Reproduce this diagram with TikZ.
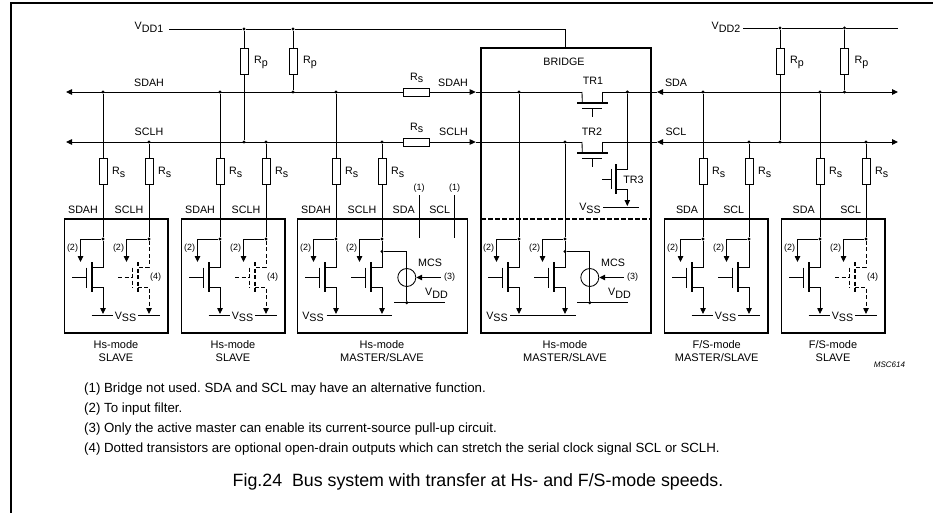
\documentclass[tikz,border=0pt]{standalone}
\usepackage{fontspec}
\setmainfont{Liberation Sans}
\usetikzlibrary{arrows.meta,calc}
\frenchspacing
\newcommand{\lowtxt}[1]{\lower2.6pt\hbox{#1}}
\tikzset{
    wire/.style={line width=.85pt},
    optwire/.style={line width=.85pt,dash pattern=on 4pt off 2.5pt},
    boxline/.style={line width=1.2pt},
    dotnode/.style={circle,fill=black,inner sep=0pt,minimum size=3.4pt},
    rvert/.style={draw,line width=.8pt,fill=white,inner sep=0pt,minimum width=8pt,minimum height=26pt},
    rhoriz/.style={draw,line width=.8pt,fill=white,inner sep=0pt,minimum width=26pt,minimum height=8pt},
    txt/.style={inner sep=0pt,font=\fontsize{10.7}{12}\selectfont},
    note/.style={inner sep=0pt,font=\fontsize{9}{10}\selectfont},
    modname/.style={inner sep=0pt,align=center,font=\fontsize{11}{12.2}\selectfont},
    para/.style={inner sep=0pt,anchor=west,font=\fontsize{13.28}{15}\selectfont}
}
% branch from a bus through a series resistor into a module
\newcommand{\rsdrop}[3]{
    \node[dotnode] (#1b) at (#2,#3) {};
    \node[rvert] (#1r) at (#2,171) {};
    \node[txt,anchor=west] (#1rl) at (#2+9,172.5) {R\lowtxt{s}};
    \node[dotnode] (#1j) at (#2,239) {};
    \draw[wire] (#1b) -- (#1r) -- (#1j);
}
% output transistor hanging below junction #1j
\newcommand{\outfet}[3]{
    \begin{scope}[shift={(#2,0)}]
        \coordinate (#1dr) at (0,267);
        \coordinate (#1dc) at (-11.3,267);
        \coordinate (#1sc) at (-11.3,287);
        \coordinate (#1sr) at (0,287);
        \coordinate (#1tip) at (0,314);
        \coordinate (#1ct) at (-11.3,262);
        \coordinate (#1cb) at (-11.3,292);
        \coordinate (#1bt) at (-17,267.5);
        \coordinate (#1bb) at (-17,287.5);
        \coordinate (#1gb) at (-17,277.5);
        \coordinate (#1gl) at (-31,277.5);
        \coordinate (#1fa) at (-22.5,239);
        \coordinate (#1fb) at (-22.5,262);
        \draw[wire,->] (#1j) -- (#1fa) -- (#1fb);
        \node[note] (#1fl) at (-30.5,248) {(2)};
        \draw[#3] (#1j) -- (#1dr) -- (#1dc);
        \draw[#3,->] (#1sc) -- (#1sr) -- (#1tip);
        \draw[#3,line width=1.7pt] (#1ct) -- (#1cb);
        \draw[#3] (#1bt) -- (#1bb);
        \draw[#3] (#1gl) -- (#1gb);
    \end{scope}
}
% current source of a master
\newcommand{\mcs}[2]{
    \begin{scope}[shift={(#2,0)}]
        \node[dotnode] (#1ma) at (0,251.5) {};
        \coordinate (#1mb) at (24.8,251.5);
        \node[dotnode] (#1mc) at (24.8,302.7) {};
        \node[draw,circle,wire,inner sep=0pt,minimum size=18pt] (#1mo) at (24.8,277.5) {};
        \draw[wire] (#1ma) -- (#1mb) -- (#1mc);
        \coordinate (#1ml) at (12,302.7);
        \coordinate (#1mr) at (63,302.7);
        \draw[wire] (#1ml) -- (#1mr);
        \coordinate (#1mi) at (58.5,277.5);
        \draw[wire,->] (#1mi) -- (#1mo);
        \node[note] (#1m3) at (67.5,277.5) {(3)};
        \node[txt] (#1mt) at (48,263) {MCS};
        \node[txt] (#1mv) at (54.5,293.5) {V\lowtxt{DD}};
    \end{scope}
}
% ground rail under two transistors with the text in between
\newcommand{\vssmid}[2]{
    \begin{scope}[shift={(#2,0)}]
        \coordinate (#1va) at (-11.5,315.5);
        \coordinate (#1vb) at (10,315.5);
        \coordinate (#1vc) at (35,315.5);
        \coordinate (#1vd) at (57,315.5);
        \draw[wire] (#1va) -- (#1vb);
        \draw[wire] (#1vc) -- (#1vd);
        \node[txt] (#1vt) at (22.5,317) {V\lowtxt{SS}};
    \end{scope}
}
\begin{document}
\begin{tikzpicture}[x=1pt,y=-1pt,>={Stealth[length=6pt,width=5.5pt,inset=0pt]}]
    \useasboundingbox (0,0) rectangle (933,513);
    \coordinate (FL) at (10.8,513);
    \coordinate (FC) at (10.8,2.7);
    \coordinate (FR) at (933,2.7);
    \draw[line width=2pt] (FL) -- (FC) -- (FR);
    % supplies and pull-ups
    \coordinate (VA) at (169,29);
    \node[dotnode] (VP1) at (244,29) {};
    \node[dotnode] (VP2) at (293,29) {};
    \coordinate (VB) at (565.7,29);
    \coordinate (VC) at (565.7,48);
    \draw[wire] (VA) -- (VP1) -- (VP2) -- (VB) -- (VC);
    \node[txt] (VDD1) at (149,27.5) {V\lowtxt{DD1}};
    \coordinate (WA) at (743,28);
    \coordinate (WB) at (898,28);
    \node[dotnode] (WP1) at (780,28) {};
    \node[dotnode] (WP2) at (844.5,28) {};
    \draw[wire] (WA) -- (WP1) -- (WP2) -- (WB);
    \node[txt] (VDD2) at (726,27.5) {V\lowtxt{DD2}};
    \foreach \nm/\xr/\tn/\yb in {A/244/VP1/142,B/293/VP2/92,C/780/WP1/142,D/844.5/WP2/92} {
        \node[rvert] (Rp\nm) at (\xr,61) {};
        \node[txt,anchor=west] (Rp\nm l) at (\xr+10,62.5) {R\lowtxt{p}};
        \node[dotnode] (Rp\nm b) at (\xr,\yb) {};
        \draw[wire] (\tn) -- (Rp\nm) -- (Rp\nm b);
    }
    % buses
    \foreach \nm/\yb in {H/92,L/142} {
        \coordinate (Bus\nm a) at (66,\yb);
        \node[rhoriz] (Rs\nm) at (416.7,\yb) {};
        \coordinate (Bus\nm b) at (475.7,\yb);
        \coordinate (Bus\nm c) at (582,\yb);
        \coordinate (Bus\nm d) at (602.3,\yb);
        \coordinate (Bus\nm e) at (657,\yb);
        \coordinate (Bus\nm f) at (898,\yb);
        \draw[wire,<-] (Bus\nm a) -- (Rs\nm);
        \draw[wire,->] (Rs\nm) -- (Bus\nm b);
        \draw[wire] (Bus\nm b) -- (Bus\nm c);
        \draw[wire] (Bus\nm d) -- (Bus\nm e);
        \draw[wire,<->] (Bus\nm e) -- (Bus\nm f);
    }
    \node[txt] (SDAHa) at (149,83) {SDAH};
    \node[txt] (SCLHa) at (149,132) {SCLH};
    \node[txt] (SDAHb) at (453,83) {SDAH};
    \node[txt] (SCLHb) at (453.5,132) {SCLH};
    \node[txt] (RsHl) at (416.7,78) {R\lowtxt{s}};
    \node[txt] (RsLl) at (416.7,128) {R\lowtxt{s}};
    \node[txt] (SDAa) at (676,83) {SDA};
    \node[txt] (SCLa) at (676,132) {SCL};
    % bridge
    \coordinate (BrA) at (481,48);
    \coordinate (BrB) at (651,333);
    \draw[boxline] (BrA) rectangle (BrB);
    \coordinate (BrL) at (481,219);
    \coordinate (BrR) at (651,219);
    \draw[boxline,dash pattern=on 4.5pt off 2.5pt] (BrL) -- (BrR);
    \node[txt] (BrT) at (564,62) {BRIDGE};
    \node[txt] (TR1) at (593,81) {TR1};
    \node[txt] (TR2) at (592,131.5) {TR2};
    \node[txt] (TR3) at (633.5,180) {TR3};
    \foreach \nm/\yb in {H/92,L/142} {
        \begin{scope}[shift={(0,\yb-92)}]
            \coordinate (Ch\nm a) at (577.3,103.3);
            \coordinate (Ch\nm b) at (607.7,103.3);
            \coordinate (Ch\nm c) at (582.3,103.3);
            \coordinate (Ch\nm d) at (602.3,103.3);
            \coordinate (Gb\nm a) at (582.3,108.8);
            \coordinate (Gb\nm b) at (602.3,108.8);
            \coordinate (Gb\nm c) at (592.3,108.8);
            \coordinate (Gb\nm d) at (592.3,117.3);
            \draw[wire,line width=1.7pt] (Ch\nm a) -- (Ch\nm b);
            \draw[wire] (Gb\nm a) -- (Gb\nm b);
            \draw[wire] (Gb\nm c) -- (Gb\nm d);
        \end{scope}
        \draw[wire] (Bus\nm c) -- (Ch\nm c);
        \draw[wire] (Bus\nm d) -- (Ch\nm d);
    }
    \node[dotnode] (T3j) at (627.3,92) {};
    \coordinate (T3d) at (627.3,169);
    \coordinate (T3c) at (616,169);
    \coordinate (T3e) at (616,189.3);
    \coordinate (T3s) at (627.3,189.3);
    \coordinate (T3t) at (627.3,206);
    \coordinate (T3ct) at (616,164.3);
    \coordinate (T3cb) at (616,194.3);
    \coordinate (T3bt) at (611.3,169);
    \coordinate (T3bb) at (611.3,189.3);
    \coordinate (T3g) at (602.3,179.7);
    \coordinate (T3gb) at (611.3,179.7);
    \draw[wire] (T3j) -- (T3d) -- (T3c);
    \draw[wire,->] (T3e) -- (T3s) -- (T3t);
    \draw[wire,line width=1.7pt] (T3ct) -- (T3cb);
    \draw[wire] (T3bt) -- (T3bb);
    \draw[wire] (T3g) -- (T3gb);
    \coordinate (T3va) at (603.3,207);
    \coordinate (T3vb) at (639,207);
    \draw[wire] (T3va) -- (T3vb);
    \node[txt] (T3v) at (590,208.5) {V\lowtxt{SS}};
    % module boxes
    \foreach \nm/\xa/\xb in {M1/64.7/168,M2/181.7/285,M3/297.5/467.7,M5/664.5/768,M6/781.7/885} {
        \coordinate (\nm a) at (\xa,219);
        \coordinate (\nm b) at (\xb,333);
        \draw[boxline] (\nm a) rectangle (\nm b);
    }
    % branches
    \foreach \nm/\xd/\yb in {a/103/92,b/149/142,c/220/92,d/266/142,e/336/92,f/382/142,k/703/92,l/749/142,m/820/92,n/866/142} {
        \rsdrop{\nm}{\xd}{\yb}
    }
    \foreach \nm/\xd/\yb in {g/519/92,h/565/142} {
        \node[dotnode] (\nm b) at (\xd,\yb) {};
        \node[dotnode] (\nm j) at (\xd,239) {};
        \draw[wire] (\nm b) -- (\nm j);
    }
    \foreach \nm/\xd/\sty in {a/103/wire,b/149/optwire,c/220/wire,d/266/optwire,e/336/wire,f/382/wire,g/519/wire,h/565/wire,k/703/wire,l/749/wire,m/820/wire,n/866/optwire} {
        \outfet{\nm}{\xd}{\sty}
    }
    \node[note] (opt1) at (155.7,277.5) {(4)};
    \node[note] (opt2) at (272.7,277.5) {(4)};
    \node[note] (opt3) at (872.7,277.5) {(4)};
    \mcs{f}{382}
    \mcs{h}{565}
    \vssmid{a}{103}
    \vssmid{c}{220}
    \vssmid{k}{703}
    \vssmid{m}{820}
    \coordinate (VeA) at (326.7,315.5);
    \coordinate (VeB) at (392.3,315.5);
    \draw[wire] (VeA) -- (VeB);
    \node[txt] (VeT) at (313,317) {V\lowtxt{SS}};
    \coordinate (VgA) at (510,315.5);
    \coordinate (VgB) at (575.7,315.5);
    \draw[wire] (VgA) -- (VgB);
    \node[txt] (VgT) at (497,317) {V\lowtxt{SS}};
    % pins of the modules
    \foreach \nm/\xl/\tl in {a/83/SDAH,b/129/SCLH,c/200/SDAH,d/246/SCLH,e/316/SDAH,f/362/SCLH,p/403.7/SDA,q/439.7/SCL,k/687/SDA,l/733.7/SCL,m/803.7/SDA,n/850.7/SCL} {
        \node[txt] (pin\nm) at (\xl,210) {\tl};
    }
    \foreach \nm/\xl in {A/419,B/454.7} {
        \coordinate (Alt\nm a) at (\xl,195);
        \coordinate (Alt\nm b) at (\xl,238);
        \draw[wire] (Alt\nm a) -- (Alt\nm b);
        \node[note] (Alt\nm l) at (\xl,188) {(1)};
    }
    % module names
    \foreach \nm/\xl/\tl in {a/116/{Hs-mode\\SLAVE},c/233/{Hs-mode\\SLAVE},e/382/{Hs-mode\\MASTER/SLAVE},g/565/{Hs-mode\\MASTER/SLAVE},k/716.7/{F/S-mode\\MASTER/SLAVE},m/833/{F/S-mode\\SLAVE}} {
        \node[modname] (name\nm) at (\xl,351) {\tl};
    }
    \node[inner sep=0pt,font=\fontsize{8}{9}\itshape] (code) at (889.5,365) {MSC614};
    % notes
    \node[para] (n1) at (84,389) {(1) Bridge not used. SDA and SCL may have an alternative function.};
    \node[para] (n2) at (84,409) {(2) To input filter.};
    \node[para] (n3) at (84,429) {(3) Only the active master can enable its current-source pull-up circuit.};
    \node[para] (n4) at (84,449) {(4) Dotted transistors are optional open-drain outputs which can stretch the serial clock signal SCL or SCLH.};
    \node[inner sep=0pt,anchor=west,font=\fontsize{17.8}{20}\selectfont] (figcap) at (232.5,481.5) {Fig.24\ \ Bus system with transfer at Hs- and F/S-mode speeds.};
\end{tikzpicture}
\end{document}
